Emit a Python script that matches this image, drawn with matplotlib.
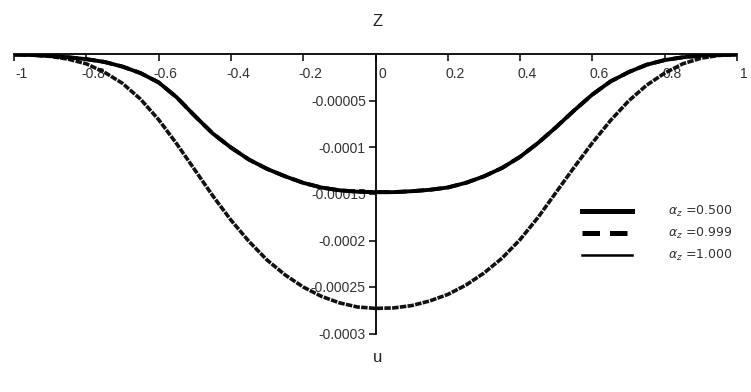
import matplotlib
matplotlib.use("Agg")
import matplotlib.pyplot as plt
from matplotlib.lines import Line2D
from matplotlib.transforms import ScaledTranslation

plt.rcParams['font.family'] = ['Liberation Sans', 'DejaVu Sans']

# ---- data (z values in units of 1e-5) ----
u = [-1.00, -0.95, -0.90, -0.85, -0.80, -0.75, -0.70, -0.65, -0.60, -0.55,
     -0.50, -0.45, -0.40, -0.35, -0.30, -0.25, -0.20, -0.15, -0.10, -0.05,
     0.00, 0.05, 0.10, 0.15, 0.20, 0.25, 0.30, 0.35, 0.40, 0.45,
     0.50, 0.55, 0.60, 0.65, 0.70, 0.75, 0.80, 0.85, 0.90, 0.95, 1.00]

z_a0500 = [0.0, -0.05, -0.15, -0.30, -0.50, -0.80, -1.30, -2.00, -3.00, -4.60,
           -6.60, -8.50, -10.00, -11.30, -12.30, -13.10, -13.80, -14.30, -14.60, -14.75,
           -14.80, -14.80, -14.70, -14.55, -14.30, -13.80, -13.10, -12.20, -11.00, -9.50,
           -7.80, -6.00, -4.30, -2.90, -1.90, -1.10, -0.60, -0.30, -0.12, -0.04, 0.0]

z_a0999 = [0.0, -0.05, -0.15, -0.30, -0.50, -0.80, -1.30, -2.00, -3.00, -4.60,
           -6.60, -8.50, -10.00, -11.30, -12.30, -13.10, -13.80, -14.30, -14.60, -14.75,
           -14.80, -14.80, -14.70, -14.55, -14.30, -13.80, -13.10, -12.20, -11.00, -9.50,
           -7.80, -6.00, -4.30, -2.90, -1.90, -1.10, -0.60, -0.30, -0.12, -0.04, 0.0]

z_a1000 = [0.0, -0.05, -0.20, -0.50, -1.00, -1.90, -3.10, -4.80, -7.00, -9.60,
           -12.40, -15.20, -17.80, -20.10, -22.10, -23.70, -25.00, -26.00, -26.70, -27.15,
           -27.30, -27.25, -27.00, -26.50, -25.80, -24.80, -23.50, -21.90, -19.90, -17.50,
           -14.80, -12.10, -9.50, -7.10, -5.00, -3.30, -2.00, -1.00, -0.40, -0.10, 0.0]

labels = ['0.500', '0.999', '1.000']
xticks = [-1, -0.8, -0.6, -0.4, -0.2, 0, 0.2, 0.4, 0.6, 0.8, 1]
xticklabels = ['-1', '-0.8', '-0.6', '-0.4', '-0.2', '0', '0.2', '0.4', '0.6', '0.8', '1']
yticks = [-0.00005, -0.0001, -0.00015, -0.0002, -0.00025, -0.0003]
yticklabels = ['-0.00005', '-0.0001', '-0.00015', '-0.0002', '-0.00025', '-0.0003']

scale = 1e-5
fig = plt.figure(figsize=(7.51, 3.92), dpi=100)
ax = fig.add_axes([14/751, 58.5/392, (737-14)/751, (333.5-54.5)/392])

ax.plot(u, [v*scale for v in z_a1000], color='#111111', lw=2.6,
        linestyle=(0, (1.8, 0.35)), solid_capstyle='butt')
ax.plot(u, [v*scale for v in z_a0500], color='black', lw=2.8)
ax.plot(u, [v*scale for v in z_a0999], color='black', lw=2.8, linestyle=(0, (3, 1.5)))

ax.set_xlim(-1, 1)
ax.set_ylim(-0.0003, 0)
for s in ['top', 'right']:
    ax.spines[s].set_visible(False)
ax.spines['left'].set_position(('data', 0))
ax.spines['bottom'].set_position(('data', 0))
ax.spines['left'].set_linewidth(1.3)
ax.spines['bottom'].set_linewidth(1.3)

ax.set_xticks(xticks)
ax.set_xticklabels(xticklabels)
ax.set_yticks(yticks)
ax.set_yticklabels(yticklabels)
ax.tick_params(axis='x', direction='out', length=5, width=1.1, pad=4,
               labelsize=10, labelcolor='#333333')
ax.tick_params(axis='y', direction='out', length=5, width=1.1, pad=2,
               labelsize=10, labelcolor='#333333')
off = ScaledTranslation(7/100, 0, fig.dpi_scale_trans)
for lab in ax.get_xticklabels():
    lab.set_transform(lab.get_transform() + off)

handles = [Line2D([], [], color='black', lw=3.6),
           Line2D([], [], color='black', lw=3.6, linestyle=(0, (3.5, 2))),
           Line2D([], [], color='black', lw=1.8)]
leg = ax.legend(handles, [r'$\alpha_z$ =' + l for l in labels],
                loc='upper left', bbox_to_anchor=(582/751, 1 - 204/392),
                bbox_transform=fig.transFigure, frameon=False,
                fontsize=9, handlelength=4.0, handletextpad=2.9,
                labelspacing=0.55, borderpad=0, borderaxespad=0)
for t in leg.get_texts():
    t.set_color('#333333')
    t.set_family(['DejaVu Sans'])

fig.text(378/751, 1 - 22/392, 'Z', ha='center', va='center', fontsize=12, color='#222222')
fig.text(378/751, 1 - 358/392, 'u', ha='center', va='center', fontsize=12, color='#222222')

fig.savefig('out.png', dpi=100)
